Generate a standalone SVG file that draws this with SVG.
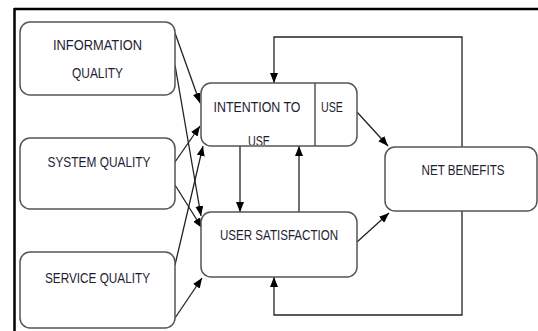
<svg xmlns="http://www.w3.org/2000/svg" width="538" height="331" viewBox="0 0 538 331">
<defs>
<style>
.box{fill:#fff;stroke:#555;stroke-width:1.5}
.t{font-family:"Liberation Sans",Arial,sans-serif;font-size:15.5px;fill:#1e1e33;text-anchor:middle}
.c{fill:none;stroke:#222;stroke-width:1.3}
</style>
<marker id="ah" markerWidth="10" markerHeight="8" refX="10" refY="4" orient="auto" markerUnits="userSpaceOnUse">
<path d="M0,0 L10,4 L0,8 z" fill="#000"/>
</marker>
<clipPath id="clipInt"><rect x="201" y="83" width="156" height="62"/></clipPath>
</defs>
<rect width="538" height="331" fill="#fff"/>
<g id="frame">
<line x1="14.5" y1="8" x2="14.5" y2="331" stroke="#000" stroke-width="2.5"/>
<line x1="14" y1="9" x2="538" y2="9" stroke="#000" stroke-width="2.5"/>
</g>
<g id="connectors">
<path class="c" d="M175,33 L200,103" marker-end="url(#ah)"/>
<path class="c" d="M175,65 L201,216" marker-end="url(#ah)"/>
<path class="c" d="M175,162 L200,126" marker-end="url(#ah)"/>
<path class="c" d="M175,185 L202,228" marker-end="url(#ah)"/>
<path class="c" d="M175,265 L203,146" marker-end="url(#ah)"/>
<path class="c" d="M175,318 L202,278" marker-end="url(#ah)"/>
<path class="c" d="M240,146 L240,212" marker-end="url(#ah)"/>
<path class="c" d="M299,212 L299,146" marker-end="url(#ah)"/>
<path class="c" d="M357,112 L388,146" marker-end="url(#ah)"/>
<path class="c" d="M357,242 L389,213" marker-end="url(#ah)"/>
<path class="c" d="M462,147 V37 H274 V83" marker-end="url(#ah)"/>
<path class="c" d="M462,211 V315 H274 V277" marker-end="url(#ah)"/>
</g>
<g id="information-quality">
<rect class="box" x="20" y="22" width="155" height="73" rx="10"/>
<text class="t" x="97.5" y="50" textLength="89" lengthAdjust="spacingAndGlyphs">INFORMATION</text>
<text class="t" x="97.5" y="78" textLength="51" lengthAdjust="spacingAndGlyphs">QUALITY</text>
</g>
<g id="system-quality">
<rect class="box" x="20" y="138" width="155" height="71" rx="10"/>
<text class="t" x="99" y="167" textLength="103" lengthAdjust="spacingAndGlyphs">SYSTEM QUALITY</text>
</g>
<g id="service-quality">
<rect class="box" x="20" y="252" width="155" height="76" rx="10"/>
<text class="t" x="97.5" y="283" textLength="105" lengthAdjust="spacingAndGlyphs">SERVICE QUALITY</text>
</g>
<g id="intention-to-use">
<rect class="box" x="201" y="83" width="156" height="63" rx="10"/>
<line x1="315" y1="83" x2="315" y2="146" stroke="#555" stroke-width="1.5"/>
<text class="t" x="257" y="112" textLength="87" lengthAdjust="spacingAndGlyphs">INTENTION TO</text>
<text class="t" x="259" y="145.5" textLength="22" lengthAdjust="spacingAndGlyphs" clip-path="url(#clipInt)">USE</text>
<text class="t" x="332" y="112" textLength="22" lengthAdjust="spacingAndGlyphs">USE</text>
</g>
<g id="user-satisfaction">
<rect class="box" x="201" y="212" width="156" height="65" rx="10"/>
<text class="t" x="279" y="240" textLength="118" lengthAdjust="spacingAndGlyphs">USER SATISFACTION</text>
</g>
<g id="net-benefits">
<rect class="box" x="385" y="147" width="152" height="64" rx="10"/>
<text class="t" x="463" y="175" textLength="83" lengthAdjust="spacingAndGlyphs">NET BENEFITS</text>
</g>
</svg>
